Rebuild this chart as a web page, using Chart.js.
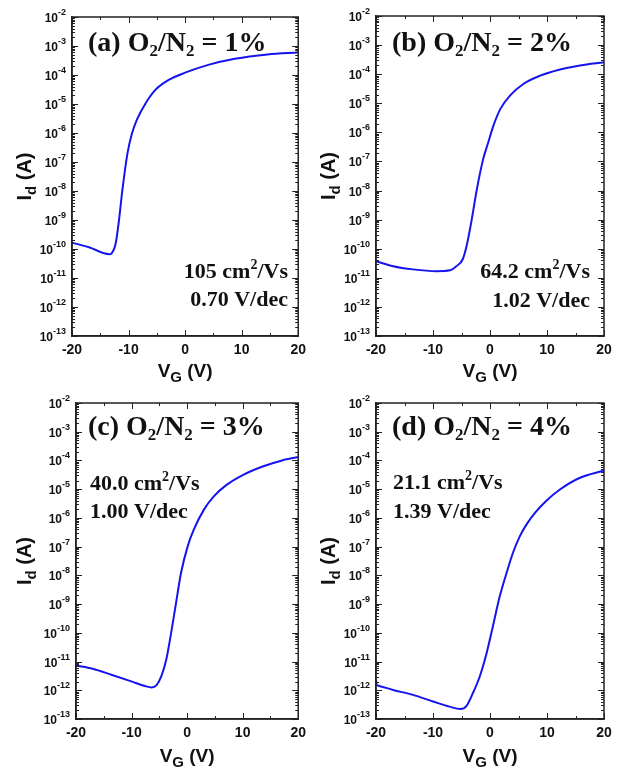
<!DOCTYPE html>
<html>
<head>
<meta charset="utf-8">
<script src="https://cdn.jsdelivr.net/npm/chart.js@4.4.0/dist/chart.umd.min.js"></script>
<style>
  html, body { margin: 0; padding: 0; background: #fff; }
  #wrap { position: relative; width: 625px; height: 769px; overflow: hidden; }
  .panel { position: absolute; }
</style>
</head>
<body>
<div id="wrap">
  <div class="panel" style="left:0;top:0;width:312px;height:384px"><canvas id="pa"></canvas></div>
  <div class="panel" style="left:312px;top:0;width:313px;height:384px"><canvas id="pb"></canvas></div>
  <div class="panel" style="left:0;top:384px;width:312px;height:385px"><canvas id="pc"></canvas></div>
  <div class="panel" style="left:312px;top:384px;width:313px;height:385px"><canvas id="pd"></canvas></div>
</div>
<script>
// ── Transfer curves: gate voltage (V) and log10 of drain current (A) ────────
const vgA    = [-20, -17, -13.4, -13.0, -12.3, -11.7, -11.1, -10.2, -9.4, -8.5, -7.0, -5.3, -2.9, 0, 4.1, 8.8, 14.6, 20];
const logIdA = [-9.78, -9.94, -10.18, -10.15, -9.83, -9.02, -7.98, -6.71, -6.02, -5.53, -4.98, -4.52, -4.17, -3.92, -3.65, -3.44, -3.29, -3.22];

const vgB    = [-20, -17, -13.5, -9.4, -7.0, -5.9, -4.8, -4.1, -3.2, -2.3, -1.2, -0.3, 0.6, 1.8, 3.5, 5.9, 8.8, 12.3, 15.8, 20];
const logIdB = [-10.43, -10.6, -10.71, -10.77, -10.74, -10.6, -10.37, -9.9, -8.99, -7.95, -6.92, -6.34, -5.77, -5.2, -4.74, -4.33, -4.05, -3.84, -3.7, -3.59];

const vgC    = [-20, -17, -13.5, -9.9, -7.6, -6.4, -5.5, -4.65, -3.76, -2.88, -2.0, -1.1, 0.1, 1.2, 3.0, 4.8, 7.1, 10.1, 13.6, 17.1, 20];
const logIdC = [-11.14, -11.25, -11.47, -11.70, -11.85, -11.90, -11.82, -11.52, -10.94, -10.01, -8.97, -7.92, -6.99, -6.41, -5.72, -5.25, -4.85, -4.5, -4.21, -4.0, -3.88];

const vgD    = [-20, -19.9, -19.6, -17, -13.5, -10, -7.1, -5.2, -4.15, -3.0, -1.8, -0.6, 0.5, 1.7, 2.9, 4.0, 5.2, 6.5, 8.0, 9.8, 12.2, 15.7, 20];
const logIdD = [-11.64, -11.8, -11.84, -11.99, -12.16, -12.39, -12.57, -12.65, -12.55, -12.10, -11.52, -10.71, -9.78, -8.74, -7.92, -7.23, -6.65, -6.2, -5.8, -5.42, -5.02, -4.61, -4.35];

// axis ranges / ticks
const xTicks = [-20, -10, 0, 10, 20];
const yDecades = [-13, -12, -11, -10, -9, -8, -7, -6, -5, -4, -3, -2];

// panel text
const panelLetters = ['a', 'b', 'c', 'd'];
const panelRatios  = ['1%', '2%', '3%', '4%'];
const mobilities   = ['105', '64.2', '40.0', '21.1'];
const swings       = ['0.70', '1.02', '1.00', '1.39'];

const SANS  = "'Liberation Sans', Arial, sans-serif";
const SERIF = "'Liberation Serif', 'Times New Roman', serif";
const INK   = '#111';

// ── Helper: draw a run of text pieces [text, font, dy] ──────────────────────
function richText(ctx, parts, x, y, align) {
  let w = 0;
  parts.forEach(p => { ctx.font = p[1]; w += ctx.measureText(p[0]).width; });
  let cx = align === 'right' ? x - w : align === 'center' ? x - w / 2 : x;
  ctx.textAlign = 'left';
  ctx.textBaseline = 'alphabetic';
  parts.forEach(p => {
    ctx.font = p[1];
    ctx.fillText(p[0], cx, y + (p[2] || 0));
    cx += ctx.measureText(p[0]).width;
  });
}

// ── Plugin: frame, inward ticks, log labels, titles, annotations ────────────
function makeDecor(p) {
  return {
    id: 'decor',
    afterDraw(chart) {
      const { ctx, chartArea: a, scales: { x, y } } = chart;
      ctx.save();
      ctx.strokeStyle = '#222';
      ctx.fillStyle = INK;
      ctx.lineWidth = 1.5;
      ctx.strokeRect(a.left, a.top, a.right - a.left, a.bottom - a.top);

      // x ticks every 5 V, top and bottom
      ctx.lineWidth = 1;
      ctx.beginPath();
      for (let v = -20; v <= 20; v += 5) {
        const px = Math.round(x.getPixelForValue(v)) + 0.5;
        const len = v % 10 === 0 ? 6 : 3;
        ctx.moveTo(px, a.bottom); ctx.lineTo(px, a.bottom - len);
        ctx.moveTo(px, a.top);    ctx.lineTo(px, a.top + len);
      }
      // y ticks: decades and minor 2..9, left and right
      yDecades.forEach(e => {
        const py = Math.round(y.getPixelForValue(Math.pow(10, e))) + 0.5;
        ctx.moveTo(a.left, py);  ctx.lineTo(a.left + 6, py);
        ctx.moveTo(a.right, py); ctx.lineTo(a.right - 6, py);
        if (e < -2) {
          for (let m = 2; m <= 9; m++) {
            const pm = Math.round(y.getPixelForValue(m * Math.pow(10, e))) + 0.5;
            ctx.moveTo(a.left, pm);  ctx.lineTo(a.left + 3, pm);
            ctx.moveTo(a.right, pm); ctx.lineTo(a.right - 3, pm);
          }
        }
      });
      ctx.stroke();

      // y tick labels 10^e
      yDecades.forEach(e => {
        const py = y.getPixelForValue(Math.pow(10, e));
        ctx.font = `bold 9px ${SANS}`;
        const ex = String(e);
        const exW = ctx.measureText(ex).width;
        const right = a.left - 6;
        ctx.textAlign = 'right';
        ctx.textBaseline = 'alphabetic';
        ctx.fillText(ex, right, py - 2);
        ctx.font = `bold 12px ${SANS}`;
        ctx.fillText('10', right - exW, py + 5);
      });

      // y title, rotated
      ctx.save();
      ctx.translate(p.yTitleX - p.ox, (a.top + a.bottom) / 2);
      ctx.rotate(-Math.PI / 2);
      richText(ctx, [
        ['I', `bold 20px ${SANS}`],
        ['d', `bold 15px ${SANS}`, 5],
        [' (A)', `bold 20px ${SANS}`],
      ], 0, 0, 'center');
      ctx.restore();

      // x title
      richText(ctx, [
        ['V', `bold 19px ${SANS}`],
        ['G', `bold 15px ${SANS}`, 5],
        [' (V)', `bold 19px ${SANS}`],
      ], (a.left + a.right) / 2, p.xTitleY - p.oy, 'center');

      // panel title
      const big = `bold 28px ${SERIF}`, sub = `bold 17px ${SERIF}`;
      richText(ctx, [
        [`(${p.letter}) O`, big], ['2', sub, 5], ['/N', big], ['2', sub, 5], [` = ${p.ratio}`, big],
      ], p.titleX - p.ox, p.titleY - p.oy, 'left');

      // mobility and subthreshold swing
      const ann = `bold 22px ${SERIF}`, annSup = `bold 14px ${SERIF}`;
      richText(ctx, [[`${p.mu} cm`, ann], ['2', annSup, -9], ['/Vs', ann]],
        p.annX - p.ox, p.annY1 - p.oy, p.annAlign);
      richText(ctx, [[`${p.ss} V/dec`, ann]], p.annX - p.ox, p.annY2 - p.oy, p.annAlign);
      ctx.restore();
    },
  };
}

// ── Build one panel ─────────────────────────────────────────────────────────
function makePanel(id, vg, logId, p) {
  const pts = vg.map((v, i) => ({ x: v, y: Math.pow(10, logId[i]) }));
  return new Chart(document.getElementById(id), {
    type: 'line',
    data: {
      datasets: [{
        data: pts,
        borderColor: '#1414ee',
        borderWidth: 2,
        pointRadius: 0,
        fill: false,
        cubicInterpolationMode: 'monotone',
      }],
    },
    options: {
      animation: false,
      responsive: true,
      maintainAspectRatio: false,
      layout: { padding: { left: 0, top: p.padTop, right: p.padRight, bottom: 0 } },
      plugins: { legend: { display: false }, tooltip: { enabled: false } },
      scales: {
        x: {
          type: 'linear', min: -20, max: 20,
          afterBuildTicks: s => { s.ticks = xTicks.map(v => ({ value: v })); },
          ticks: { color: INK, padding: 6, maxRotation: 0, font: { family: SANS, weight: 'bold', size: 14 } },
          grid: { display: false, drawTicks: false },
          border: { color: '#222', width: 1.5 },
          afterFit: s => { s.height = p.xAxisH; },
        },
        y: {
          type: 'logarithmic', min: 1e-13, max: 1e-2,
          ticks: { display: false },
          grid: { display: false, drawTicks: false },
          border: { color: '#222', width: 1.5 },
          afterFit: s => { s.width = p.yAxisW; },
        },
      },
    },
    plugins: [makeDecor(p)],
  });
}

makePanel('pa', vgA, logIdA, {
  ox: 0, oy: 0, yAxisW: 72, padTop: 17, padRight: 11, xAxisH: 48,
  letter: panelLetters[0], ratio: panelRatios[0], mu: mobilities[0], ss: swings[0],
  titleX: 88, titleY: 51, annX: 288, annY1: 278, annY2: 306, annAlign: 'right',
  yTitleX: 31, xTitleY: 377,
});
makePanel('pb', vgB, logIdB, {
  ox: 312, oy: 0, yAxisW: 64, padTop: 16, padRight: 21, xAxisH: 48,
  letter: panelLetters[1], ratio: panelRatios[1], mu: mobilities[1], ss: swings[1],
  titleX: 392, titleY: 51, annX: 590, annY1: 278, annY2: 307, annAlign: 'right',
  yTitleX: 335, xTitleY: 377,
});
makePanel('pc', vgC, logIdC, {
  ox: 0, oy: 384, yAxisW: 76, padTop: 19, padRight: 9, xAxisH: 50,
  letter: panelLetters[2], ratio: panelRatios[2], mu: mobilities[2], ss: swings[2],
  titleX: 88, titleY: 435, annX: 90, annY1: 490, annY2: 518, annAlign: 'left',
  yTitleX: 31, xTitleY: 762,
});
makePanel('pd', vgD, logIdD, {
  ox: 312, oy: 384, yAxisW: 64, padTop: 19, padRight: 21, xAxisH: 50,
  letter: panelLetters[3], ratio: panelRatios[3], mu: mobilities[3], ss: swings[3],
  titleX: 392, titleY: 435, annX: 393, annY1: 489, annY2: 518, annAlign: 'left',
  yTitleX: 335, xTitleY: 762,
});
</script>
</body>
</html>
